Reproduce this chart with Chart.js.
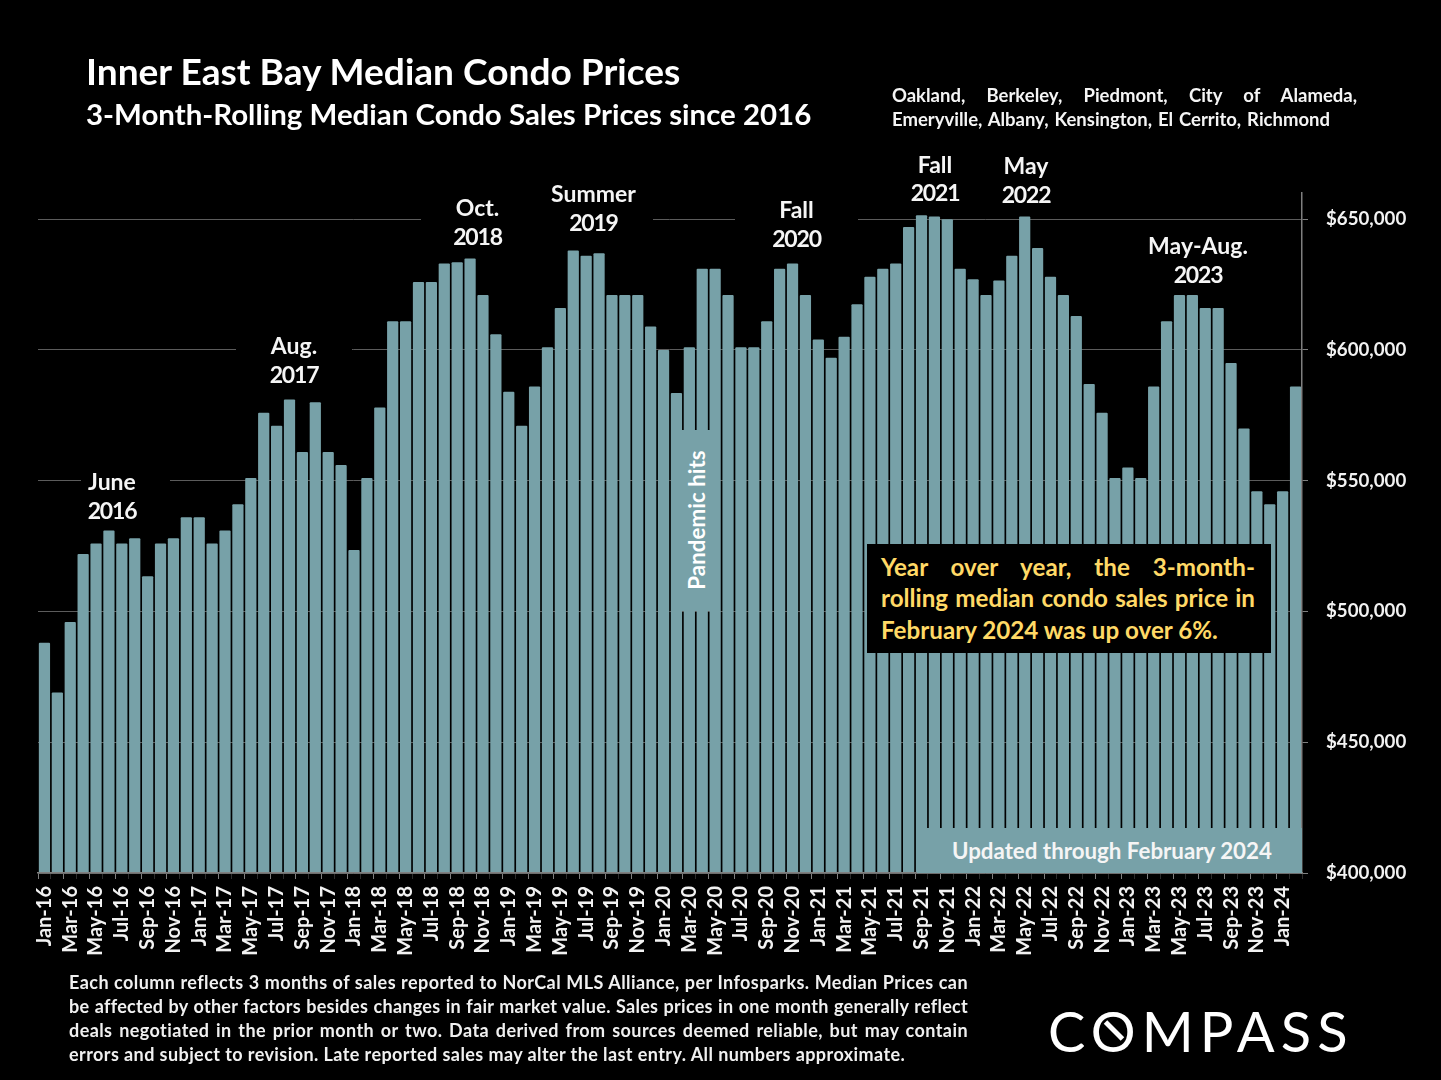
<!DOCTYPE html>
<html><head><meta charset="utf-8">
<script src="https://cdn.jsdelivr.net/npm/chart.js@4"></script>
<style>
html,body{margin:0;padding:0;background:#000;}
#wrap{position:relative;width:1441px;height:1080px;overflow:hidden;background:#000;font-family:Lato,sans-serif;font-weight:700;color:#fff;}
canvas{position:absolute;left:0;top:0;}
.t{position:absolute;white-space:nowrap;}
.j{position:absolute;text-align:justify;text-align-last:justify;white-space:normal;}
.note{position:absolute;box-sizing:border-box;background:#000;display:flex;align-items:center;justify-content:center;text-align:center;font-size:23px;line-height:28.5px;color:#f5f5f5;}
.note.clear{background:transparent;}
.note b{font-weight:700;letter-spacing:-1.2px;}
.foot{font-size:18px;letter-spacing:0.42px;line-height:24px;height:24px;left:69px;width:899px;color:#f0f0f0;}
.yl{font-size:24.2px;line-height:31px;height:31px;left:881px;width:374px;color:#FFD966;}
</style></head>
<body><div id="wrap">
<canvas id="c" width="1441" height="1080"></canvas>

<div class="t" style="left:86px;top:48px;font-size:37.1px;line-height:46px;">Inner East Bay Median Condo Prices</div>
<div class="t" style="left:86px;top:95px;font-size:29.45px;line-height:38px;">3-Month-Rolling Median Condo Sales Prices since 2016</div>
<div class="j" style="left:892px;top:83px;width:465px;font-size:18.5px;line-height:24px;height:24px;color:#f5f5f5;">Oakland, Berkeley, Piedmont, City of Alameda,</div>
<div class="j" style="left:892px;top:107px;width:438px;font-size:18.5px;line-height:24px;height:24px;color:#f5f5f5;">Emeryville, Albany, Kensington, El Cerrito, Richmond</div>

<div class="note" style="left:81px;top:467.5px;width:89px;height:56px;padding-right:27px;"><span>June<br><b>2016</b></span></div>
<div class="note" style="left:236px;top:331.5px;width:116px;height:56px;"><span>Aug.<br><b>2017</b></span></div>
<div class="note" style="left:421px;top:193.5px;width:113px;height:56px;"><span>Oct.<br><b>2018</b></span></div>
<div class="note" style="left:534px;top:179.5px;width:119px;height:56px;"><span>Summer<br><b>2019</b></span></div>
<div class="note" style="left:735px;top:195.5px;width:123px;height:56px;"><span>Fall<br><b>2020</b></span></div>
<div class="note clear" style="left:895px;top:149.5px;width:80px;height:57px;"><span>Fall<br><b>2021</b></span></div>
<div class="note clear" style="left:986px;top:151.5px;width:80px;height:56px;"><span>May<br><b>2022</b></span></div>
<div class="note clear" style="left:1128px;top:231.5px;width:140px;height:56px;"><span>May-Aug.<br><b>2023</b></span></div>

<div style="position:absolute;left:671px;top:430px;width:49px;height:181px;background:#77A1A8;"></div>
<div class="t" style="left:697px;top:520px;font-size:22.4px;line-height:26px;transform:translate(-50%,-50%) rotate(-90deg);">Pandemic hits</div>

<div style="position:absolute;left:917px;top:828px;width:385px;height:45px;background:#77A1A8;"></div>
<div class="t" style="left:952px;top:836px;font-size:22.3px;line-height:30px;color:#f5f5f5;">Updated through February 2024</div>

<div style="position:absolute;left:867px;top:544px;width:404px;height:109px;background:#000;"></div>
<div class="j yl" style="top:551px;">Year over year, the 3-month-</div>
<div class="j yl" style="top:582px;">rolling median condo sales price in</div>
<div class="t yl" style="top:614px;">February 2024 was up over 6%.</div>

<div class="j foot" style="top:970px;">Each column reflects 3 months of sales reported to NorCal MLS Alliance, per Infosparks. Median Prices can</div>
<div class="j foot" style="top:994px;letter-spacing:0.28px;">be affected by other factors besides changes in fair market value. Sales prices in one month generally reflect</div>
<div class="j foot" style="top:1018px;">deals negotiated in the prior month or two. Data derived from sources deemed reliable, but may contain</div>
<div class="t foot" style="top:1042px;">errors and subject to revision. Late reported sales may alter the last entry. All numbers approximate.</div>

<div class="t" style="left:1048px;top:998px;font-size:56px;line-height:66px;font-weight:400;letter-spacing:6.1px;color:#fff;">COMPASS</div>
<div style="position:absolute;left:1102px;top:1028px;width:24px;height:5px;background:#fff;transform:rotate(45deg);"></div>
</div>
<script>
const categories = [
 "Jan-16","Feb-16","Mar-16","Apr-16","May-16","Jun-16","Jul-16","Aug-16","Sep-16","Oct-16","Nov-16","Dec-16",
 "Jan-17","Feb-17","Mar-17","Apr-17","May-17","Jun-17","Jul-17","Aug-17","Sep-17","Oct-17","Nov-17","Dec-17",
 "Jan-18","Feb-18","Mar-18","Apr-18","May-18","Jun-18","Jul-18","Aug-18","Sep-18","Oct-18","Nov-18","Dec-18",
 "Jan-19","Feb-19","Mar-19","Apr-19","May-19","Jun-19","Jul-19","Aug-19","Sep-19","Oct-19","Nov-19","Dec-19",
 "Jan-20","Feb-20","Mar-20","Apr-20","May-20","Jun-20","Jul-20","Aug-20","Sep-20","Oct-20","Nov-20","Dec-20",
 "Jan-21","Feb-21","Mar-21","Apr-21","May-21","Jun-21","Jul-21","Aug-21","Sep-21","Oct-21","Nov-21","Dec-21",
 "Jan-22","Feb-22","Mar-22","Apr-22","May-22","Jun-22","Jul-22","Aug-22","Sep-22","Oct-22","Nov-22","Dec-22",
 "Jan-23","Feb-23","Mar-23","Apr-23","May-23","Jun-23","Jul-23","Aug-23","Sep-23","Oct-23","Nov-23","Dec-23",
 "Jan-24","Feb-24"];
const medianPrices = [
 488000,469000,496000,522000,526000,531000,526000,528000,513500,526000,528000,536000,
 536000,526000,531000,541000,551000,576000,571000,581000,561000,580000,561000,556000,
 523500,551000,578000,611000,611000,626000,626000,633000,633500,635000,621000,606000,
 584000,571000,586000,601000,616000,638000,636000,637000,621000,621000,621000,609000,
 600000,583500,601000,631000,631000,621000,601000,601000,611000,631000,633000,621000,
 604000,597000,605000,617500,628000,631000,633000,647000,651500,651000,650000,631000,
 627000,621000,626500,636000,651000,639000,628000,621000,613000,587000,576000,551000,
 555000,551000,586000,611000,621000,621000,616000,616000,595000,570000,546000,541000,
 546000,586000];
const yTickValues = [400000,450000,500000,550000,600000,650000];
const barColor = "#77A1A8";
const axisColor = "#7f7f7f";
const xTickFont = {family:"Lato",size:20,weight:"700"};
const yTickFont = {family:"Lato",size:18.7,weight:"700"};

new Chart(document.getElementById("c"),{
 type:"bar",
 data:{labels:categories,datasets:[{data:medianPrices,backgroundColor:barColor,borderWidth:0,borderRadius:1,barPercentage:0.87,categoryPercentage:1}]},
 options:{
  responsive:false,animation:false,devicePixelRatio:1,
  layout:{padding:{left:38,top:193,right:0,bottom:0}},
  plugins:{legend:{display:false},tooltip:{enabled:false},title:{display:false}},
  scales:{
   x:{
    offset:true,
    afterFit(s){s.height=207;},
    border:{color:axisColor,width:1.5,z:1},
    grid:{drawOnChartArea:false,drawTicks:true,tickLength:6,offset:true,
      tickColor:c=>c.index%2===0?axisColor:"rgba(127,127,127,0.35)"},
    ticks:{autoSkip:false,minRotation:90,maxRotation:90,color:"#f2f2f2",font:xTickFont,padding:7,
      callback(v,i){return i%2===0?categories[i]:"";}}
   },
   y:{
    position:"right",min:400000,max:660000,
    afterFit(s){s.width=139;},
    afterBuildTicks(s){s.ticks=yTickValues.map(value=>({value}));},
    border:{color:axisColor,width:1.5,z:1},
    grid:{color:"#5c5c5c",tickColor:axisColor,tickLength:6,z:-1},
    ticks:{color:"#f2f2f2",font:yTickFont,padding:18,
      callback(v){return "$"+Number(v).toLocaleString("en-US");}}
   }
  }
 }
});
</script>
</body></html>
